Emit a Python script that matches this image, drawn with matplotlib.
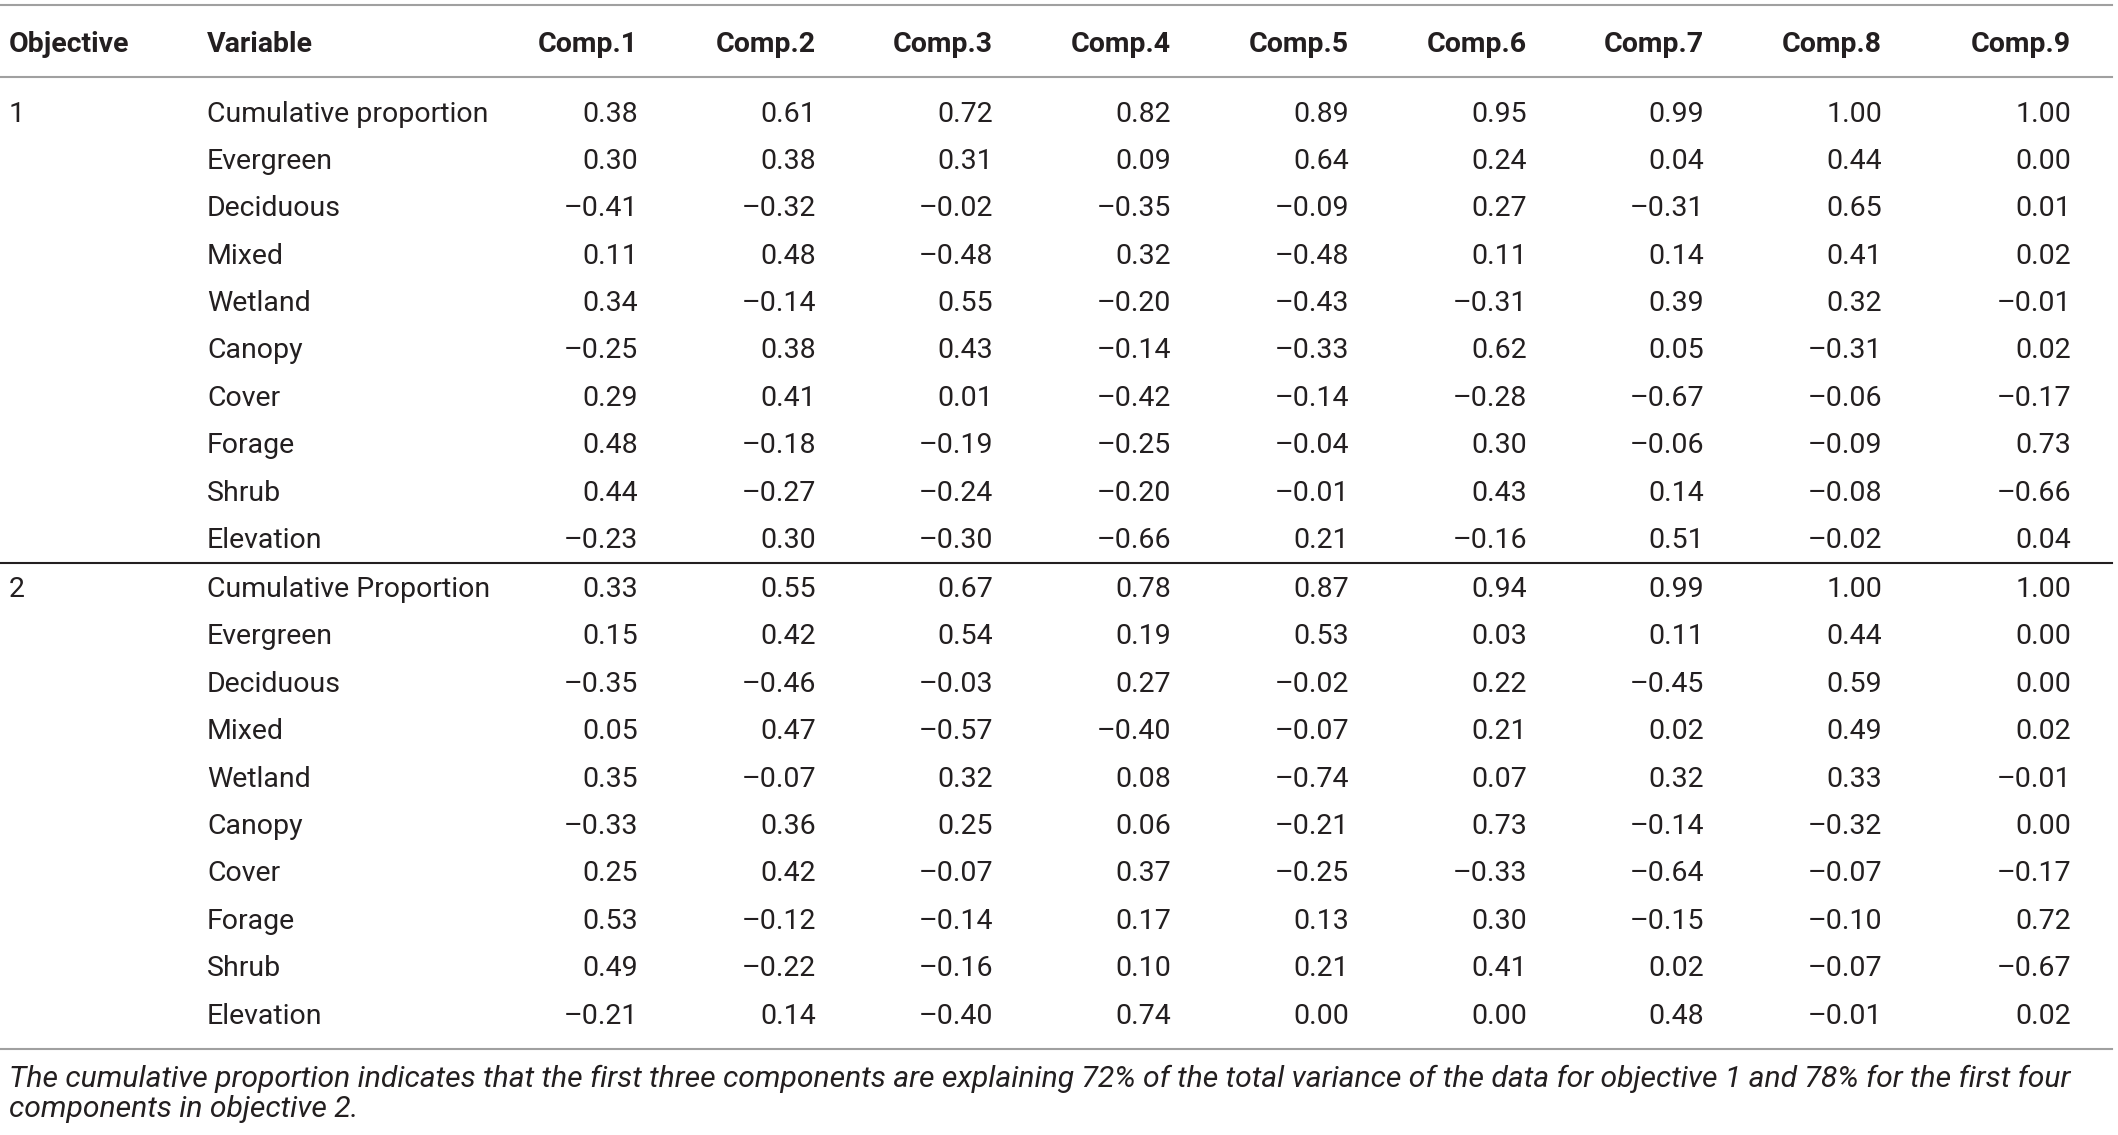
import matplotlib
matplotlib.use("Agg")
import matplotlib.pyplot as plt
from matplotlib.lines import Line2D

# ---------------- data ----------------
header = ["Objective", "Variable", "Comp.1", "Comp.2", "Comp.3", "Comp.4",
          "Comp.5", "Comp.6", "Comp.7", "Comp.8", "Comp.9"]

objectives = ["1", "2"]

variables_obj1 = ["Cumulative proportion", "Evergreen", "Deciduous", "Mixed", "Wetland",
                  "Canopy", "Cover", "Forage", "Shrub", "Elevation"]
variables_obj2 = ["Cumulative Proportion", "Evergreen", "Deciduous", "Mixed", "Wetland",
                  "Canopy", "Cover", "Forage", "Shrub", "Elevation"]

values_obj1 = [
    [0.38, 0.61, 0.72, 0.82, 0.89, 0.95, 0.99, 1.00, 1.00],
    [0.30, 0.38, 0.31, 0.09, 0.64, 0.24, 0.04, 0.44, 0.00],
    [-0.41, -0.32, -0.02, -0.35, -0.09, 0.27, -0.31, 0.65, 0.01],
    [0.11, 0.48, -0.48, 0.32, -0.48, 0.11, 0.14, 0.41, 0.02],
    [0.34, -0.14, 0.55, -0.20, -0.43, -0.31, 0.39, 0.32, -0.01],
    [-0.25, 0.38, 0.43, -0.14, -0.33, 0.62, 0.05, -0.31, 0.02],
    [0.29, 0.41, 0.01, -0.42, -0.14, -0.28, -0.67, -0.06, -0.17],
    [0.48, -0.18, -0.19, -0.25, -0.04, 0.30, -0.06, -0.09, 0.73],
    [0.44, -0.27, -0.24, -0.20, -0.01, 0.43, 0.14, -0.08, -0.66],
    [-0.23, 0.30, -0.30, -0.66, 0.21, -0.16, 0.51, -0.02, 0.04],
]

values_obj2 = [
    [0.33, 0.55, 0.67, 0.78, 0.87, 0.94, 0.99, 1.00, 1.00],
    [0.15, 0.42, 0.54, 0.19, 0.53, 0.03, 0.11, 0.44, 0.00],
    [-0.35, -0.46, -0.03, 0.27, -0.02, 0.22, -0.45, 0.59, 0.00],
    [0.05, 0.47, -0.57, -0.40, -0.07, 0.21, 0.02, 0.49, 0.02],
    [0.35, -0.07, 0.32, 0.08, -0.74, 0.07, 0.32, 0.33, -0.01],
    [-0.33, 0.36, 0.25, 0.06, -0.21, 0.73, -0.14, -0.32, 0.00],
    [0.25, 0.42, -0.07, 0.37, -0.25, -0.33, -0.64, -0.07, -0.17],
    [0.53, -0.12, -0.14, 0.17, 0.13, 0.30, -0.15, -0.10, 0.72],
    [0.49, -0.22, -0.16, 0.10, 0.21, 0.41, 0.02, -0.07, -0.67],
    [-0.21, 0.14, -0.40, 0.74, 0.00, 0.00, 0.48, -0.01, 0.02],
]

footnote = ["The cumulative proportion indicates that the first three components are explaining 72% of the total variance of the data for objective 1 and 78% for the first four",
            "components in objective 2."]

# ---------------- layout ----------------
W, H = 2118, 1135
fig = plt.figure(figsize=(W / 100, H / 100), dpi=100)
ax = fig.add_axes([0, 0, 1, 1])
ax.set_xlim(0, W)
ax.set_ylim(H, 0)
ax.axis("off")

FONT = ["Roboto", "Liberation Sans", "DejaVu Sans"]
TXT = "#231f20"
FS = 20.5
FS_NOTE = 21.7

x_obj = 9
x_var = 207
x_comp = [638, 816, 993, 1171, 1349, 1527, 1704, 1882, 2071]

y_header = 52
row_h = 47.4
y_first = [121.5, 597]

def fmt(v):
    s = f"{abs(v):.2f}"
    return ("\u2013" + s) if v < 0 else s

# header
ax.text(x_obj, y_header, header[0], ha="left", va="baseline", fontsize=FS,
        fontweight="bold", color=TXT, family=FONT)
ax.text(x_var, y_header, header[1], ha="left", va="baseline", fontsize=FS,
        fontweight="bold", color=TXT, family=FONT)
for xc, h in zip(x_comp, header[2:]):
    ax.text(xc, y_header, h, ha="right", va="baseline", fontsize=FS,
            fontweight="bold", color=TXT, family=FONT)

# body
for obj, vars_, vals, y0 in zip(objectives, [variables_obj1, variables_obj2],
                                [values_obj1, values_obj2], y_first):
    ax.text(x_obj, y0, obj, ha="left", va="baseline", fontsize=FS,
            fontweight="normal", color=TXT, family=FONT)
    for i, (var, row) in enumerate(zip(vars_, vals)):
        y = y0 + i * row_h
        ax.text(x_var, y, var, ha="left", va="baseline", fontsize=FS,
                fontweight="normal", color=TXT, family=FONT)
        for xc, v in zip(x_comp, row):
            ax.text(xc, y, fmt(v), ha="right", va="baseline", fontsize=FS,
                    fontweight="normal", color=TXT, family=FONT)

# rules
gray = "#a0a0a0"
for y, c, lw in [(5, gray, 1.5), (77, gray, 1.5), (563, "#231f20", 1.5), (1049, gray, 1.5)]:
    ax.add_line(Line2D([0, 2112], [y, y], color=c, lw=lw))

# footnote
ax.text(x_obj, 1087, footnote[0], ha="left", va="baseline", fontsize=FS_NOTE,
        fontstyle="italic", fontweight="normal", color=TXT, family=FONT)
ax.text(x_obj, 1117, footnote[1], ha="left", va="baseline", fontsize=FS_NOTE,
        fontstyle="italic", fontweight="normal", color=TXT, family=FONT)

fig.savefig("out.png", dpi=100, facecolor="white")
